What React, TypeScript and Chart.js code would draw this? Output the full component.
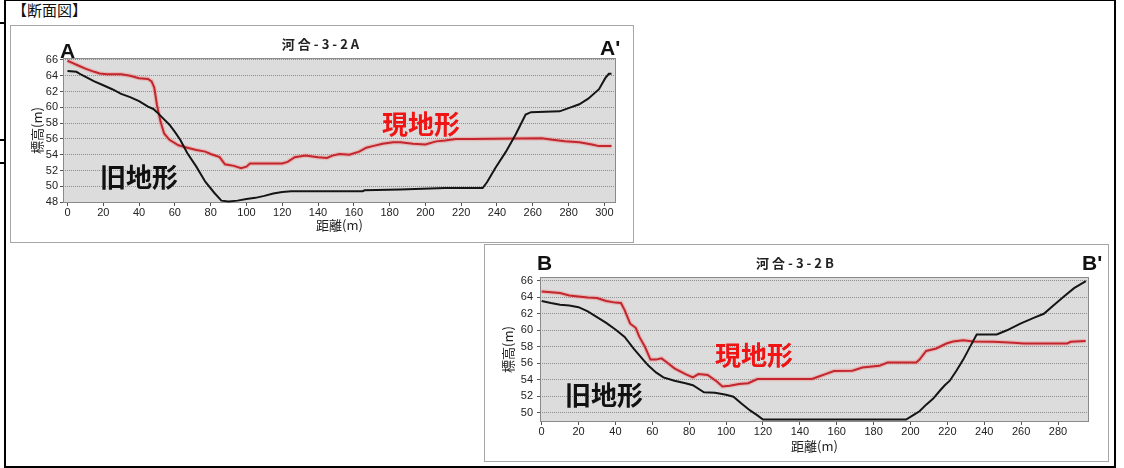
import { useEffect, useRef } from 'react'
import { Chart, registerables } from 'chart.js'

Chart.register(...registerables)

// 河合-3-2A : 現地形 (red) / 旧地形 (black)
const distA_now = [0, 3, 6, 10, 15, 18, 22, 30, 35, 40, 45, 47, 48.5, 50, 52, 54, 57, 62, 67, 72, 77, 80, 85, 88, 93, 97, 100, 102, 120, 123, 127, 133, 140, 145, 148, 152, 157.5, 163, 167, 170.5, 176, 182, 186, 193, 200, 206, 211, 217, 226, 265, 271, 278, 286, 293, 297, 304]
const elevA_now = [65.9, 65.6, 65.3, 64.9, 64.5, 64.3, 64.2, 64.2, 64.0, 63.7, 63.6, 63.3, 62.5, 60.3, 58.2, 56.7, 55.9, 55.2, 54.9, 54.6, 54.4, 54.1, 53.7, 52.8, 52.6, 52.3, 52.5, 52.9, 52.9, 53.1, 53.7, 53.9, 53.7, 53.6, 53.9, 54.1, 54.0, 54.4, 54.9, 55.1, 55.4, 55.6, 55.6, 55.4, 55.3, 55.7, 55.8, 56.0, 56.0, 56.1, 55.9, 55.7, 55.6, 55.3, 55.1, 55.1]
const distA_old = [0, 5, 8, 15, 20, 25, 30, 35, 40, 45, 48, 50, 53, 57, 60, 63, 67, 72, 77, 82, 86, 90, 95, 100, 105, 110, 115, 120, 125, 165, 166, 186, 211, 232, 234.5, 239, 245, 250.5, 256, 259, 275, 280, 286, 291, 297, 300.5, 302.5, 304]
const elevA_old = [64.6, 64.5, 64.1, 63.3, 62.8, 62.3, 61.7, 61.3, 60.8, 60.1, 59.8, 59.4, 58.7, 57.8, 56.9, 55.9, 54.2, 52.5, 50.6, 49.2, 48.2, 48.1, 48.2, 48.4, 48.55, 48.8, 49.1, 49.3, 49.4, 49.4, 49.5, 49.6, 49.8, 49.8, 50.55, 52.3, 54.4, 56.6, 59.1, 59.4, 59.5, 59.9, 60.4, 61.1, 62.3, 63.7, 64.25, 64.25]
const xTicksA = [0, 20, 40, 60, 80, 100, 120, 140, 160, 180, 200, 220, 240, 260, 280, 300]
const yTicksA = [48, 50, 52, 54, 56, 58, 60, 62, 64, 66]

// 河合-3-2B
const distB_now = [0, 5, 10, 15, 20, 25, 30, 35, 40, 43, 45, 48, 51, 53, 56, 59, 62, 65, 68, 72, 78, 82, 85, 90, 95, 98, 102, 107, 112, 117, 146.6, 150.3, 153.9, 158.5, 168.5, 173.9, 183.1, 187.6, 203.1, 204.9, 208.5, 214, 219.5, 223.1, 228.6, 234, 245, 255.9, 261.4, 285, 286.9, 295]
const elevB_now = [64.7, 64.6, 64.5, 64.2, 64.1, 63.96, 63.9, 63.55, 63.35, 63.3, 62.45, 60.8, 60.3, 59.2, 58.0, 56.45, 56.45, 56.6, 56.1, 55.4, 54.7, 54.3, 54.7, 54.6, 53.8, 53.2, 53.3, 53.5, 53.6, 54.1, 54.1, 54.4, 54.7, 55.06, 55.1, 55.5, 55.7, 56.1, 56.1, 56.45, 57.5, 57.8, 58.4, 58.65, 58.8, 58.65, 58.6, 58.5, 58.4, 58.4, 58.6, 58.7]
const distB_old = [0, 5, 10, 15, 20, 25, 30, 35, 40, 45, 50, 55, 58, 62, 66, 72, 78, 82, 88, 94, 100, 104, 108, 113, 117, 120, 197.6, 201.3, 204.9, 208.5, 212.2, 215.8, 218.6, 221.3, 224.9, 228.6, 232.2, 235.9, 246.8, 252.3, 259.6, 266.8, 272.3, 277.8, 283.2, 288.7, 295.1]
const elevB_old = [63.55, 63.3, 63.1, 63.0, 62.8, 62.3, 61.6, 60.9, 60.1, 59.2, 57.75, 56.45, 55.7, 54.9, 54.3, 53.9, 53.6, 53.35, 52.5, 52.45, 52.2, 51.96, 51.2, 50.3, 49.7, 49.2, 49.2, 49.7, 50.2, 51.0, 51.7, 52.65, 53.35, 53.9, 55.1, 56.45, 57.96, 59.5, 59.5, 60.0, 60.8, 61.5, 62.0, 63.06, 64.1, 65.1, 65.95]
const xTicksB = [0, 20, 40, 60, 80, 100, 120, 140, 160, 180, 200, 220, 240, 260, 280]
const yTicksB = [50, 52, 54, 56, 58, 60, 62, 64, 66]

const CJK = '"Noto Sans CJK JP", "Noto Sans", sans-serif'
const LATIN = '"Liberation Sans", Arial, sans-serif'

// gray plot area with a frame, like the original survey software
const plotFrame = {
  id: 'plotFrame',
  beforeDraw(chart: Chart) {
    const { ctx, chartArea: a } = chart
    ctx.save()
    ctx.fillStyle = '#dcdcdc'
    ctx.fillRect(a.left, a.top, a.right - a.left, a.bottom - a.top)
    ctx.restore()
  },
  beforeDatasetsDraw(chart: Chart) {
    const { ctx, chartArea: a } = chart
    ctx.save()
    ctx.strokeStyle = '#8a8a8a'
    ctx.lineWidth = 1
    ctx.strokeRect(a.left + 0.5, a.top + 0.5, a.right - a.left - 1, a.bottom - a.top - 1)
    ctx.restore()
  },
}

interface ProfileProps {
  nowX: number[]
  nowY: number[]
  oldX: number[]
  oldY: number[]
  xTicks: number[]
  yTicks: number[]
  xRange: [number, number]
  yRange: [number, number]
  yAxisWidth: number
  yTickPad: number
  yTitlePad: number
  xTitlePad: number
  padRight: number
}

function ProfileChart(p: ProfileProps) {
  const ref = useRef<HTMLCanvasElement>(null)

  useEffect(() => {
    if (!ref.current) return
    const pts = (xs: number[], ys: number[]) => xs.map((x, i) => ({ x, y: ys[i] }))

    const chart = new Chart(ref.current, {
      type: 'line',
      data: {
        datasets: [
          {
            label: '旧地形',
            data: pts(p.oldX, p.oldY),
            borderColor: '#151515',
            borderWidth: 2,
            pointRadius: 0,
            tension: 0,
          },
          {
            label: '現地形',
            data: pts(p.nowX, p.nowY),
            borderColor: '#c3262c',
            borderWidth: 2,
            pointRadius: 0,
            tension: 0,
          },
          {
            label: '現地形 halo',
            data: pts(p.nowX, p.nowY),
            borderColor: 'rgba(240,120,120,0.35)',
            borderWidth: 4.5,
            pointRadius: 0,
            tension: 0,
          },
        ],
      },
      options: {
        animation: false,
        responsive: true,
        maintainAspectRatio: false,
        layout: { padding: { top: 32, right: p.padRight, bottom: 6, left: 0 } },
        plugins: {
          legend: { display: false },
          tooltip: { enabled: false },
        },
        scales: {
          x: {
            type: 'linear',
            min: p.xRange[0],
            max: p.xRange[1],
            afterBuildTicks: (s: any) => { s.ticks = p.xTicks.map(value => ({ value })) },
            afterFit: (s: any) => { s.height = 33 },
            grid: { drawOnChartArea: false, drawTicks: true, tickLength: 3, tickColor: '#555' },
            border: { display: false },
            ticks: {
              autoSkip: false, maxRotation: 0, padding: 0, color: '#222',
              font: { family: LATIN, size: 11 },
            },
            title: {
              display: true, text: '距離(m)', color: '#222',
              font: { family: CJK, size: 13 },
              padding: { top: 0, bottom: p.xTitlePad },
            },
          },
          y: {
            type: 'linear',
            min: p.yRange[0],
            max: p.yRange[1],
            afterBuildTicks: (s: any) => { s.ticks = p.yTicks.map(value => ({ value })) },
            afterFit: (s: any) => { s.width = p.yAxisWidth },
            grid: { color: '#8e8e8e', tickColor: '#555', tickLength: 3 },
            border: { display: false, dash: [1, 1] },
            ticks: {
              autoSkip: false, padding: p.yTickPad, color: '#222',
              font: { family: LATIN, size: 11 },
            },
            title: {
              display: true, text: '標高(m)', color: '#222',
              font: { family: CJK, size: 13 },
              padding: { top: p.yTitlePad, bottom: 0 },
            },
          },
        },
      },
      plugins: [plotFrame],
    })

    return () => chart.destroy()
  }, [p])

  return <canvas ref={ref} />
}

const panelStyle = (left: number, top: number, width: number, height: number): React.CSSProperties => ({
  position: 'absolute', left, top, width, height,
  border: '1px solid #a6a6a6', boxSizing: 'border-box', background: '#fff',
})

const textStyle = (left: number, top: number, size: number, color: string, family: string, weight: number | string = 'bold'): React.CSSProperties => ({
  position: 'absolute', left, top, fontSize: size, lineHeight: 1, color,
  fontFamily: family, fontWeight: weight, whiteSpace: 'nowrap',
})

const propsA: ProfileProps = {
  nowX: distA_now, nowY: elevA_now, oldX: distA_old, oldY: elevA_old,
  xTicks: xTicksA, yTicks: yTicksA,
  xRange: [-2.5, 306.5], yRange: [47.9, 66.25],
  yAxisWidth: 52, yTickPad: 2, yTitlePad: 18, xTitlePad: 3, padRight: 17,
}

const propsB: ProfileProps = {
  nowX: distB_now, nowY: elevB_now, oldX: distB_old, oldY: elevB_old,
  xTicks: xTicksB, yTicks: yTicksB,
  xRange: [-0.9, 296.8], yRange: [48.9, 66.45],
  yAxisWidth: 55, yTickPad: 4, yTitlePad: 15, xTitlePad: 1, padRight: 19,
}

export default function App() {
  return (
    <div style={{ position: 'absolute', left: 0, top: 0, width: 1124, height: 468, background: '#fff', overflow: 'hidden' }}>
      {/* table frame */}
      <div style={{ position: 'absolute', left: 4, top: -1, width: 1112, height: 469, border: '2px solid #000', boxSizing: 'border-box' }} />
      <div style={{ position: 'absolute', left: 0, top: 22, width: 5, height: 2, background: '#000' }} />
      <div style={{ position: 'absolute', left: 0, top: 139, width: 5, height: 2, background: '#000' }} />
      <div style={{ position: 'absolute', left: 0, top: 162, width: 5, height: 2, background: '#000' }} />

      <span style={textStyle(12, 2, 15, '#111', CJK, 'normal')}>【断面図】</span>

      {/* 河合-3-2A */}
      <div style={panelStyle(10, 25, 624, 218)}>
        <div style={{ position: 'relative', width: 622, height: 216 }}>
          <ProfileChart {...propsA} />
        </div>
      </div>
      <div style={{ ...textStyle(10, 37, 13, '#222', CJK, 600), width: 624, textAlign: 'center', letterSpacing: 3 }}>河合-3-2A</div>
      <span style={textStyle(60, 40, 21, '#111', LATIN)}>A</span>
      <span style={textStyle(600, 37, 21, '#111', LATIN)}>A'</span>
      <span style={textStyle(100, 163, 26, '#111', CJK)}>旧地形</span>
      <span style={textStyle(382, 110, 26, '#f01414', CJK)}>現地形</span>

      {/* 河合-3-2B */}
      <div style={panelStyle(484, 244, 625, 218)}>
        <div style={{ position: 'relative', width: 623, height: 216 }}>
          <ProfileChart {...propsB} />
        </div>
      </div>
      <div style={{ ...textStyle(484, 256, 13, '#222', CJK, 600), width: 625, textAlign: 'center', letterSpacing: 3 }}>河合-3-2B</div>
      <span style={textStyle(537, 252, 21, '#111', LATIN)}>B</span>
      <span style={textStyle(1082, 252, 21, '#111', LATIN)}>B'</span>
      <span style={textStyle(565, 381, 26, '#111', CJK)}>旧地形</span>
      <span style={textStyle(715, 341, 26, '#f01414', CJK)}>現地形</span>
    </div>
  )
}
